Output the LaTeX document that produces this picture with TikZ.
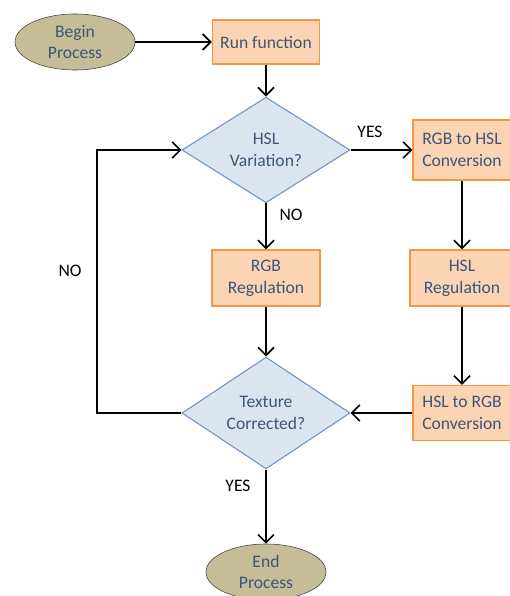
\documentclass[tikz,border=0pt]{standalone}
\usepackage{fontspec}
\setmainfont{Carlito}
\usetikzlibrary{arrows.meta}
\usetikzlibrary{shapes.geometric}

\definecolor{txtblue}{RGB}{60,85,120}
\definecolor{tanfill}{RGB}{196,189,151}
\definecolor{boxfill}{RGB}{251,212,180}
\definecolor{boxline}{RGB}{247,150,70}
\definecolor{decfill}{RGB}{219,229,241}
\definecolor{decline}{RGB}{120,150,195}

\begin{document}
\begin{tikzpicture}[x=0.025cm,y=-0.025cm,
	font=\fontsize{12.5}{15.5}\selectfont,
	terminal/.style={ellipse,draw=black!75,fill=tanfill,text=txtblue,align=center,
		minimum width=3cm,minimum height=1.4cm,inner sep=0pt},
	procbox/.style={rectangle,draw=boxline,fill=boxfill,text=txtblue,align=center,
		minimum width=2.6cm,minimum height=1.45cm,inner sep=0pt,line width=0.8pt},
	decision/.style={diamond,draw=decline,fill=decfill,text=txtblue,align=center,
		minimum width=4.2cm,minimum height=2.45cm,inner sep=0pt,line width=0.8pt},
	flow/.style={-{Straight Barb[length=2mm,width=4mm]},line width=1.2pt}]

		\useasboundingbox (0,0) rectangle (510,596);

		\node [terminal] (begin) at (75,42) {Begin\\Process};
		\node [procbox,minimum width=2.68cm,minimum height=1.1cm] (run) at (266,42) {Run function};
		\node [decision] (hsl) at (266,150) {HSL\\Variation?};
		\node [procbox,minimum width=2.45cm,minimum height=1.5cm] (rgbtohsl) at (462,150) {RGB to HSL\\Conversion};
		\node [procbox,minimum width=2.7cm,minimum height=1.4cm] (rgbreg) at (266,278) {RGB\\Regulation};
		\node [procbox,minimum width=2.6cm,minimum height=1.4cm] (hslreg) at (462,278) {HSL\\Regulation};
		\node [decision] (texture) at (266,413) {Texture\\Corrected?};
		\node [procbox,minimum width=2.45cm,minimum height=1.375cm] (hsltorgb) at (462,413) {HSL to RGB\\Conversion};
		\node [terminal] (end) at (266,572) {End\\Process};
		\coordinate (back) at (97,413);

		\foreach \a/\b in {begin.east/run.west,run.south/hsl.north,hsl.east/rgbtohsl.west,
			hsl.south/rgbreg.north,rgbtohsl.south/hslreg.north,rgbreg.south/texture.north,
			hslreg.south/hsltorgb.north,hsltorgb.west/texture.east,texture.south/end.north}
			\draw [flow] (\a) -- (\b) ;

		\draw [flow] (texture.west) -- (back) |- (hsl.west) ;

		\node (yes1) at (370,132) {YES};
		\node (no1) at (291,215) {NO};
		\node (no2) at (70,271) {NO};
		\node (yes2) at (238,486) {YES};

\end{tikzpicture}
\end{document}
